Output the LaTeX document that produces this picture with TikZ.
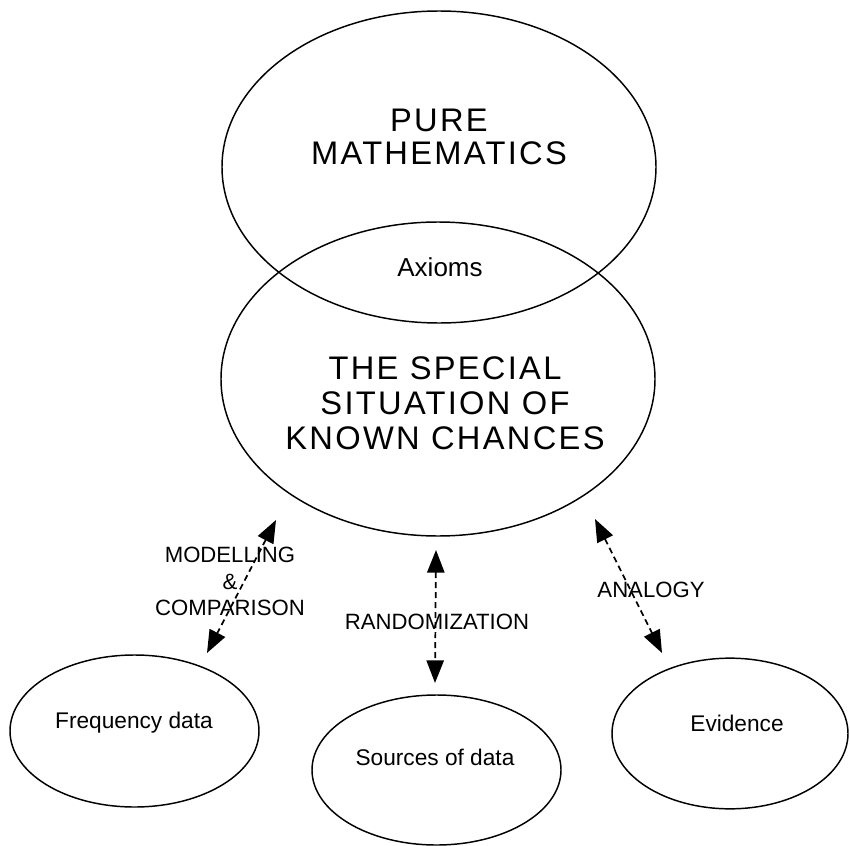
\documentclass[tikz,border=0pt]{standalone}
\usepackage{fontspec}
\setmainfont{Liberation Sans}
\newfontfamily\capsfont[LetterSpace=7]{Liberation Sans}
\usetikzlibrary{shapes.geometric,arrows.meta}
\begin{document}
\begin{tikzpicture}[x=0.75pt,y=-0.75pt,
  ell/.style={draw, ellipse, line width=1.1pt, inner sep=0pt},
  bigcaps/.style={font=\capsfont\fontsize{24.5}{26.25}\selectfont, align=center, inner sep=0pt},
  topcaps/.style={font=\capsfont\fontsize{24.5}{24.75}\selectfont, align=center, inner sep=0pt},
  axtext/.style={font=\fontsize{19.5}{22}\selectfont, inner sep=0pt},
  lbl/.style={font=\fontsize{16.6}{19.9}\selectfont, align=center, inner sep=0pt},
  smalltext/.style={font=\fontsize{17}{20}\selectfont, inner sep=0pt, anchor=base},
  conn/.style={dash pattern=on 4.5pt off 3pt, line width=1.3pt,
    {Triangle[length=17pt,width=13pt]}-{Triangle[length=17pt,width=13pt]}}
]
\useasboundingbox (0,0) rectangle (850,846);

% ellipses
\node[ell, minimum width=325.5pt, minimum height=234pt] (pm) at (439,167) {};
\node[ell, minimum width=325.5pt, minimum height=235.5pt] (sit) at (438,379) {};
\node[ell, minimum width=186.75pt, minimum height=114pt] (freq) at (134.5,731) {};
\node[ell, minimum width=186.75pt, minimum height=112.5pt] (src) at (436.5,770) {};
\node[ell, minimum width=177pt, minimum height=113pt] (evid) at (730,733.5) {};

% texts
\node[topcaps] (pmtext) at (439,137) {PURE\\MATHEMATICS};
\node[axtext] (ax) at (440,267) {Axioms};
\node[bigcaps] (sittext) at (445,403) {THE SPECIAL\\SITUATION OF\\KNOWN CHANCES};
\node[smalltext] (freqtext) at (134,728) {Frequency data};
\node[smalltext] (srctext) at (435,765) {Sources of data};
\node[smalltext] (evidtext) at (737,731) {Evidence};

% connector labels
\node[lbl] (lmod) at (230,581.5) {MODELLING\\\&\\COMPARISON};
\node[lbl] (lran) at (437,622) {RANDOMIZATION};
\node[lbl] (lana) at (651,590) {ANALOGY};

% connector ends
\coordinate (c1t) at (276,520);
\coordinate (c1b) at (207,653);
\coordinate (c2t) at (436,550);
\coordinate (c2b) at (435,683);
\coordinate (c3t) at (595,519);
\coordinate (c3b) at (662,653);

\draw[conn] (c1t) -- (c1b);
\draw[conn] (c2t) -- (c2b);
\draw[conn] (c3t) -- (c3b);
\end{tikzpicture}
\end{document}
